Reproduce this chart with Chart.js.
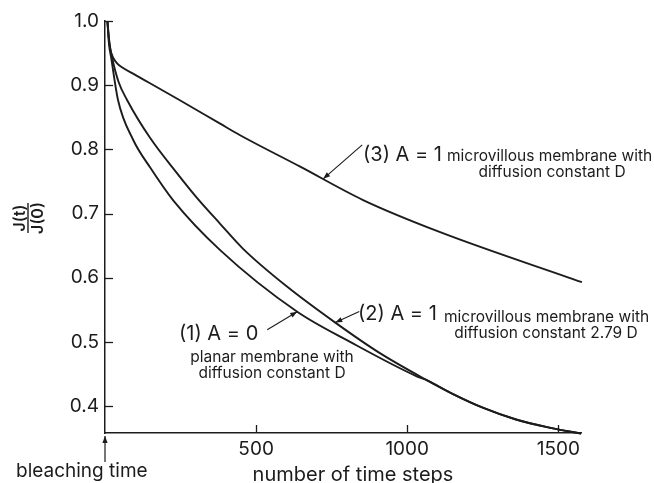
<!DOCTYPE html>
<html>
<head>
<meta charset="utf-8">
<script src="https://cdn.jsdelivr.net/npm/chart.js@4"></script>
<style>
  html, body { margin: 0; padding: 0; background: #ffffff; }
  #wrap { width: 654px; height: 483px; position: relative; }
</style>
</head>
<body>
<div id="wrap"><canvas id="c" width="654" height="483"></canvas></div>
<script>
// ---- data ----
const xTicks = [500, 1000, 1500];
const yTicks = [0.4, 0.5, 0.6, 0.7, 0.8, 0.9, 1.0];

// (1) A = 0, planar membrane, diffusion constant D
const curve1Steps  = [8, 13, 20, 43, 93, 149, 225, 381, 636, 811, 1033, 1066, 1150, 1252, 1360, 1474, 1575];
const curve1Values = [1.0, 0.965, 0.944, 0.877, 0.815, 0.772, 0.721, 0.643, 0.547, 0.500, 0.446, 0.440, 0.419, 0.397, 0.379, 0.366, 0.357];

// (2) A = 1, microvillous membrane, diffusion constant 2.79 D
const curve2Steps  = [8, 15, 23, 45, 73, 149, 238, 305, 381, 457, 600, 762, 911, 1066, 1150, 1252, 1360, 1474, 1575];
const curve2Values = [1.0, 0.965, 0.944, 0.905, 0.877, 0.818, 0.763, 0.724, 0.684, 0.645, 0.587, 0.530, 0.482, 0.440, 0.419, 0.397, 0.379, 0.366, 0.357];

// (3) A = 1, microvillous membrane, diffusion constant D
const curve3Steps  = [8, 12, 18, 28, 40, 56, 100, 149, 242, 381, 447, 646, 854, 1109, 1578];
const curve3Values = [1.0, 0.975, 0.955, 0.942, 0.934, 0.928, 0.916, 0.903, 0.878, 0.840, 0.822, 0.773, 0.721, 0.671, 0.593];

// annotation anchors: arrow tips on the curves (step, value)
const note1Tip = [636, 0.547];
const note2Tip = [762, 0.530];
const note3Tip = [722, 0.754];

const INK = '#1c1c1c';
const FONT = 'Inter, "Liberation Sans", Arial, sans-serif';

function pts(xs, ys) { return xs.map((x, i) => ({ x: x, y: ys[i] })); }

function arrow(ctx, x1, y1, x2, y2) {
  ctx.beginPath();
  ctx.moveTo(x1, y1);
  ctx.lineTo(x2, y2);
  ctx.stroke();
  const a = Math.atan2(y2 - y1, x2 - x1);
  const L = 7, W = 2.6;
  ctx.beginPath();
  ctx.moveTo(x2, y2);
  ctx.lineTo(x2 - L * Math.cos(a) + W * Math.sin(a), y2 - L * Math.sin(a) - W * Math.cos(a));
  ctx.lineTo(x2 - L * Math.cos(a) - W * Math.sin(a), y2 - L * Math.sin(a) + W * Math.cos(a));
  ctx.closePath();
  ctx.fill();
}

const decor = {
  id: 'decor',
  afterDraw(chart) {
    const ctx = chart.ctx;
    const xs = chart.scales.x, ys = chart.scales.y;
    const area = chart.chartArea;
    ctx.save();
    ctx.strokeStyle = INK;
    ctx.fillStyle = INK;
    ctx.lineWidth = 1.3;

    // inner tick marks
    yTicks.forEach(v => {
      const py = Math.round(ys.getPixelForValue(v)) + 0.5;
      ctx.beginPath(); ctx.moveTo(area.left, py); ctx.lineTo(area.left + 8, py); ctx.stroke();
    });
    xTicks.forEach(v => {
      const px = Math.round(xs.getPixelForValue(v)) + 0.5;
      ctx.beginPath(); ctx.moveTo(px, area.bottom); ctx.lineTo(px, area.bottom - 8); ctx.stroke();
    });

    // y axis title as a fraction J(t) / J(0)
    ctx.save();
    ctx.translate(28, 218);
    ctx.rotate(-Math.PI / 2);
    ctx.font = '600 16px ' + FONT;
    ctx.textAlign = 'center';
    ctx.textBaseline = 'alphabetic';
    ctx.fillText('J(t)', 0, -3);
    ctx.beginPath(); ctx.moveTo(-15, 0); ctx.lineTo(15, 0); ctx.lineWidth = 1.4; ctx.stroke();
    ctx.textBaseline = 'top';
    ctx.fillText('J(0)', 0, 2);
    ctx.restore();

    // bleaching time arrow + label
    ctx.lineWidth = 1.2;
    arrow(ctx, area.left, 462, area.left, area.bottom + 3);
    ctx.font = '19px ' + FONT;
    ctx.textAlign = 'left';
    ctx.textBaseline = 'alphabetic';
    ctx.fillText('bleaching time', 16, 477);

    // x axis title
    ctx.font = '20px ' + FONT;
    ctx.textAlign = 'center';
    ctx.fillText('number of time steps', 353, 481);

    // annotations
    ctx.lineWidth = 1.1;
    const t3 = [xs.getPixelForValue(note3Tip[0]), ys.getPixelForValue(note3Tip[1])];
    arrow(ctx, t3[0] + 39, t3[1] - 34, t3[0], t3[1]);
    const t2 = [xs.getPixelForValue(note2Tip[0]), ys.getPixelForValue(note2Tip[1])];
    arrow(ctx, t2[0] + 24, t2[1] - 11, t2[0], t2[1]);
    const t1 = [xs.getPixelForValue(note1Tip[0]), ys.getPixelForValue(note1Tip[1])];
    arrow(ctx, t1[0] - 30, t1[1] + 18, t1[0], t1[1]);

    ctx.textBaseline = 'middle';
    ctx.textAlign = 'left';
    ctx.font = '20px ' + FONT;
    ctx.fillText('(3) A = 1', 363, 155);
    ctx.fillText('(2) A = 1', 358, 314);
    ctx.fillText('(1) A = 0', 179, 334);

    ctx.font = '15.5px ' + FONT;
    ctx.fillText('microvillous membrane with', 447, 156);
    ctx.fillText('microvillous membrane with', 444, 317);
    ctx.textAlign = 'center';
    ctx.fillText('diffusion constant D', 552, 172);
    ctx.fillText('diffusion constant 2.79 D', 546, 333);
    ctx.fillText('planar membrane with', 272, 357);
    ctx.fillText('diffusion constant D', 272, 373);
    ctx.restore();
  }
};

const lineStyle = {
  borderColor: INK,
  borderWidth: 1.9,
  pointRadius: 0,
  fill: false,
  cubicInterpolationMode: 'monotone',
  clip: false
};

new Chart(document.getElementById('c'), {
  type: 'line',
  data: {
    datasets: [
      Object.assign({ label: '(1) A = 0', data: pts(curve1Steps, curve1Values) }, lineStyle),
      Object.assign({ label: '(2) A = 1', data: pts(curve2Steps, curve2Values) }, lineStyle),
      Object.assign({ label: '(3) A = 1', data: pts(curve3Steps, curve3Values) }, lineStyle)
    ]
  },
  options: {
    responsive: false,
    animation: false,
    events: [],
    layout: { padding: { top: 21, right: 73, left: 0, bottom: 0 } },
    plugins: { legend: { display: false }, tooltip: { enabled: false } },
    scales: {
      x: {
        type: 'linear',
        min: 0,
        max: 1575,
        afterBuildTicks: s => { s.ticks = xTicks.map(v => ({ value: v })); },
        afterFit: s => { s.height = 50; },
        grid: { display: false, drawTicks: false },
        border: { display: true, color: INK, width: 1.5 },
        ticks: { color: INK, font: { family: FONT, size: 19 }, padding: 5, maxRotation: 0, autoSkip: false,
                 callback: v => String(v) }
      },
      y: {
        type: 'linear',
        min: 0.358,
        max: 1.0,
        afterBuildTicks: s => { s.ticks = yTicks.map(v => ({ value: v })); },
        afterFit: s => { s.width = 105; },
        grid: { display: false, drawTicks: false },
        border: { display: true, color: INK, width: 1.5 },
        ticks: { color: INK, font: { family: FONT, size: 19 }, padding: 6,
                 callback: v => Number(v).toFixed(1) }
      }
    }
  },
  plugins: [decor]
});
</script>
</body>
</html>
